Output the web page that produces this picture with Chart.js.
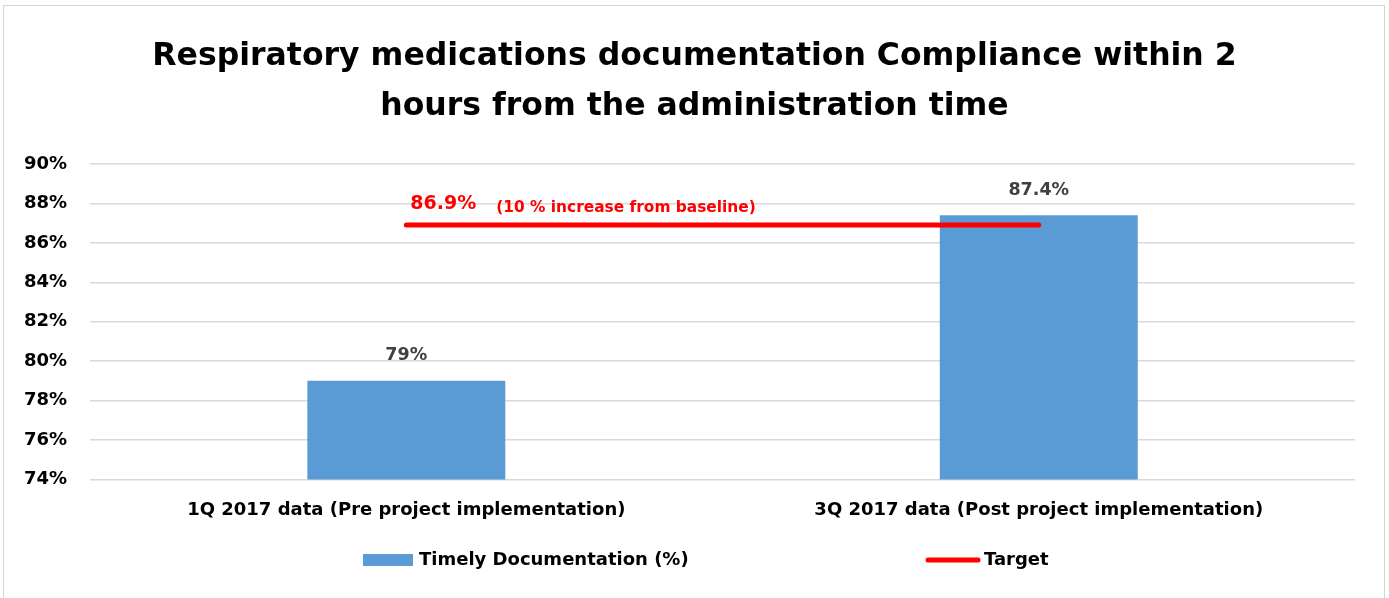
<!DOCTYPE html>
<html>
<head>
<meta charset="utf-8">
<script src="https://cdn.jsdelivr.net/npm/chart.js@4.4.1/dist/chart.umd.min.js"></script>
<style>
  html, body { margin: 0; padding: 0; background: #fff; }
  #frame { position: absolute; left: 3px; top: 5px; width: 1380px; height: 620px; border: 1px solid #d4d4d4; }
  #wrap { position: absolute; left: 0; top: 0; width: 1389px; height: 598px; }
</style>
</head>
<body>
<div id="frame"></div>
<div id="wrap"><canvas id="complianceChart"></canvas></div>
<script>
const categories = ['1Q 2017 data (Pre project implementation)', '3Q 2017 data (Post project implementation)'];
const timelyValues = [79, 87.4];
const targetValues = [86.9, 86.9];
const targetLabel = '86.9%';
const targetNote = '(10 % increase from baseline)';
const yMin = 74;
const yMax = 90;

const FONT = '"DejaVu Sans", sans-serif';

// value labels over bars + note over the target line
const labelsPlugin = {
    id: 'labelsPlugin',
    afterDatasetsDraw(chart) {
        const ctx = chart.ctx;
        ctx.save();
        const bars = chart.getDatasetMeta(0).data;
        ctx.fillStyle = '#404040';
        ctx.font = 'bold 17.5px ' + FONT;
        ctx.textAlign = 'center';
        ctx.textBaseline = 'middle';
        bars.forEach(function (bar, i) {
            ctx.fillText(timelyValues[i] + '%', bar.x, bar.y - 25);
        });
        const pts = chart.getDatasetMeta(1).data;
        ctx.fillStyle = '#ff0000';
        ctx.textAlign = 'left';
        ctx.font = 'bold 19px ' + FONT;
        ctx.fillText(targetLabel, pts[0].x + 4, pts[0].y - 21);
        const w = ctx.measureText(targetLabel).width;
        ctx.font = 'bold 15.4px ' + FONT;
        ctx.fillText(targetNote, pts[0].x + 4 + w + 20, pts[0].y - 17);
        ctx.restore();
    }
};

// legend drawn below the axis, spread like the original
const legendPlugin = {
    id: 'legendPlugin',
    afterDraw(chart) {
        const ctx = chart.ctx;
        const y = 560;
        ctx.save();
        ctx.font = 'bold 18px ' + FONT;
        ctx.textBaseline = 'middle';
        ctx.textAlign = 'left';
        ctx.fillStyle = '#5b9bd5';
        ctx.fillRect(363, y - 6, 50, 12);
        ctx.fillStyle = '#000';
        ctx.fillText(chart.data.datasets[0].label, 419, y);
        ctx.strokeStyle = '#ff0000';
        ctx.lineWidth = 5;
        ctx.lineCap = 'round';
        ctx.beginPath();
        ctx.moveTo(928, y);
        ctx.lineTo(978, y);
        ctx.stroke();
        ctx.fillText(chart.data.datasets[1].label, 984, y);
        ctx.restore();
    }
};

const ctx = document.getElementById('complianceChart').getContext('2d');
new Chart(ctx, {
    type: 'bar',
    data: {
        labels: categories,
        datasets: [
            {
                label: 'Timely Documentation (%)',
                data: timelyValues,
                backgroundColor: '#5b9bd5',
                categoryPercentage: 1,
                barPercentage: 0.313,
                order: 2
            },
            {
                type: 'line',
                label: 'Target',
                data: targetValues,
                borderColor: '#ff0000',
                backgroundColor: '#ff0000',
                borderWidth: 5,
                borderCapStyle: 'round',
                pointRadius: 0,
                fill: false,
                order: 1
            }
        ]
    },
    options: {
        responsive: true,
        maintainAspectRatio: false,
        animation: false,
        layout: {
            padding: { left: 1, right: 1, top: 6, bottom: 57 }
        },
        plugins: {
            legend: { display: false },
            tooltip: { enabled: false },
            title: {
                display: true,
                text: ['Respiratory medications documentation Compliance within 2', 'hours from the administration time'],
                color: '#000',
                font: { family: FONT, size: 31.5, weight: 'bold', lineHeight: 1.587 },
                padding: { top: 26, bottom: 32 }
            }
        },
        scales: {
            x: {
                grid: { display: false, drawTicks: false },
                border: { display: false },
                ticks: {
                    color: '#000',
                    padding: 20,
                    font: { family: FONT, size: 18, weight: 'bold' }
                }
            },
            y: {
                min: yMin,
                max: yMax,
                grid: { color: '#d9d9d9', lineWidth: 1.5, drawTicks: false },
                border: { display: false },
                ticks: {
                    stepSize: 2,
                    padding: 23,
                    color: '#000',
                    font: { family: FONT, size: 18, weight: 'bold' },
                    callback: function (v) { return v + '%'; }
                }
            },
            // empty right gutter so the plot ends where the original does
            yRight: {
                position: 'right',
                min: yMin,
                max: yMax,
                grid: { display: false, drawTicks: false },
                border: { display: false },
                ticks: { display: false },
                afterFit: function (scale) { scale.width = 33; }
            }
        }
    },
    plugins: [labelsPlugin, legendPlugin]
});
</script>
</body>
</html>
